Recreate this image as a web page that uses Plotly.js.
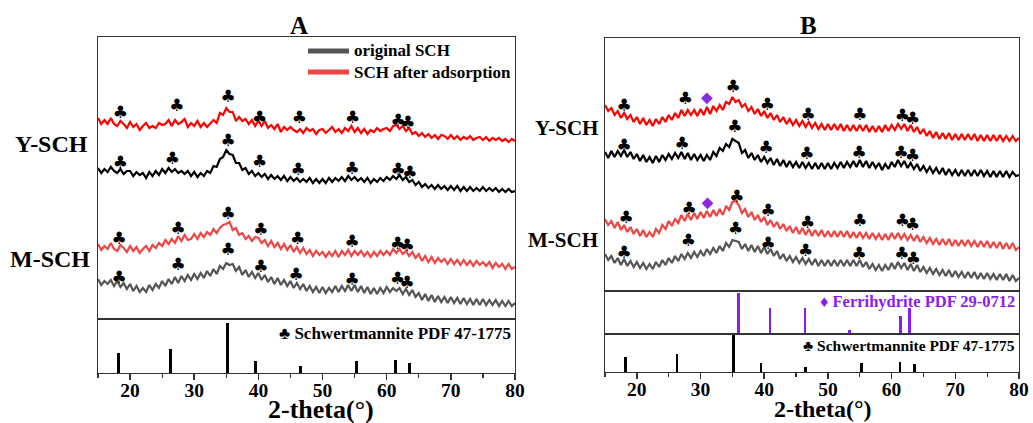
<!DOCTYPE html>
<html>
<head>
<meta charset="utf-8">
<script src="https://cdn.plot.ly/plotly-3.0.1.min.js"></script>
<style>html,body{margin:0;padding:0;background:#fff;}#chart{width:1033px;height:423px;}</style>
</head>
<body>
<div id="chart"></div>
<script>
// ---- 2-theta sampling ----
const thetaStart = 15, thetaStep = 0.5;

// ---- Panel A patterns (relative intensity, arbitrary offset units) ----
const aYafter = [201,195,199,195,201,195,193,198,195,191, 197,192,195,189,193,196,191,193,191,196,
 194,195,199,193,199,195,197,200,192,196, 193,198,192,196,192,196,199,196,206,204,
 211,207,207,198,202,198,200,195,199,193, 198,193,198,191,194,190,195,187,192,189,
 192,189,187,190,186,191,188,190,185,189, 190,186,189,192,187,190,186,191,188,193,
 187,191,186,190,185,189,187,191,188,190, 191,188,193,194,190,193,188,191,185,187,
 183,186,182,185,181,184,180,184,183,180, 184,180,183,179,182,180,183,179,181,182,
 179,182,178,181,179,181,178,180,177,180, 178];
const aYorig = [151,146,150,147,152,148,146,150,145,148, 148,143,147,144,146,141,147,143,148,144,
 150,146,151,147,150,146,148,145,148,143, 147,142,146,143,148,146,153,152,160,162,
 169,165,164,156,156,149,151,145,148,143, 146,142,145,140,144,140,143,139,143,138,
 142,138,141,137,140,137,141,136,140,136, 140,136,141,137,141,138,142,138,143,139,
 142,138,141,137,141,136,140,137,141,138, 142,139,143,140,144,139,142,137,139,134,
 137,132,135,131,134,130,134,130,133,129, 133,129,133,128,132,128,132,128,131,128,
 132,128,131,128,131,127,130,127,130,127, 128];
const aMafter = [75,69,73,70,76,70,68,74,71,67, 73,68,72,66,70,73,68,74,71,76,
 73,79,75,80,76,83,78,84,79,80, 85,80,86,82,87,84,90,86,91,94,
 95,97,89,91,84,86,80,83,78,82, 81,76,79,73,78,72,76,70,75,69,
 74,67,72,66,71,65,69,63,68,64, 67,62,67,63,68,62,68,64,69,63,
 68,64,68,63,67,62,67,63,68,64, 68,64,70,66,70,65,68,63,67,61,
 65,58,63,57,62,56,61,57,60,55, 60,55,59,54,59,54,58,53,58,54,
 57,53,57,51,56,52,55,50,55,50, 52];
const aMorig = [40,34,38,35,39,33,38,32,36,30, 35,28,33,27,31,27,34,29,35,31,
 38,33,40,35,42,36,43,38,44,39, 45,40,46,41,48,43,50,45,53,50,
 56,54,55,48,52,44,49,42,47,41, 46,39,44,37,42,35,41,34,39,33,
 38,31,36,30,35,28,33,27,32,26, 32,26,31,27,33,27,33,28,34,28,
 34,27,33,26,32,25,31,25,31,26, 32,27,31,28,31,25,30,24,29,22,
 26,19,25,18,24,17,23,17,22,16, 22,16,21,15,21,15,20,14,20,14,
 20,14,19,14,19,13,18,13,18,13, 16];

// ---- Panel B patterns ----
const bYafter = [186,180,183,176,180,173,178,172,176,169, 174,167,173,166,171,165,172,167,174,169,
 176,171,178,173,181,175,181,176,181,175, 182,176,184,177,185,180,186,181,189,187,
 194,189,191,184,187,180,184,177,182,175, 180,173,178,171,176,169,174,167,172,166,
 171,165,170,164,169,163,168,162,167,161, 167,161,167,161,167,160,166,160,166,160,
 166,160,166,159,165,159,165,159,166,160, 166,161,167,162,167,160,166,159,164,157,
 162,155,160,153,159,152,158,152,158,151, 157,151,157,151,157,151,157,150,156,150,
 156,150,156,150,156,150,155,150,155,150, 153];
const bYorig = [139,133,140,134,140,135,141,134,139,132, 137,130,136,129,134,128,135,129,136,131,
 137,132,138,133,139,132,138,131,137,131, 136,130,136,131,139,135,143,140,147,144,
 152,150,148,138,141,133,138,131,136,129, 134,128,133,126,132,125,131,124,130,124,
 129,123,129,123,128,122,128,122,128,122, 128,122,128,123,129,123,129,124,130,124,
 131,124,130,123,129,123,128,121,127,122, 129,124,131,125,130,123,128,122,127,120,
 125,119,124,118,123,117,123,116,122,116, 121,115,121,115,121,115,121,115,121,115,
 120,114,120,114,120,114,120,114,119,115, 116];
const bMafter = [72,66,70,63,69,61,66,59,64,57, 62,55,61,54,59,54,62,58,66,62,
 70,65,72,68,76,70,77,71,78,72, 79,73,80,74,81,75,82,76,85,81,
 89,90,86,78,82,74,79,71,76,69, 74,66,71,64,69,62,67,60,65,58,
 64,57,63,56,62,55,61,55,61,54, 60,54,60,54,60,54,60,53,59,53,
 59,53,58,52,58,52,57,51,57,51, 58,52,58,52,57,51,56,50,56,49,
 54,48,53,47,52,46,52,46,52,45, 51,45,51,45,51,45,50,44,50,44,
 50,43,49,43,49,42,48,42,48,41, 44];
const bMorig = [37,31,35,28,33,26,32,25,30,24, 29,23,28,22,27,22,29,24,31,26,
 33,28,35,30,37,32,38,33,39,34, 40,35,42,37,43,38,45,40,48,44,
 51,50,49,42,47,40,46,39,45,38, 44,37,42,35,40,32,37,30,35,29,
 34,28,33,27,32,26,32,25,31,25, 31,25,31,25,31,25,31,25,31,25,
 31,24,29,22,27,21,26,20,26,21, 28,22,29,23,28,21,27,20,26,19,
 24,18,23,17,22,16,21,15,21,14, 20,14,19,13,19,13,19,12,18,12,
 18,12,17,11,17,11,17,10,16,10, 13];

// ---- Reference cards ----
const schwPos = [18.2, 26.3, 35.2, 39.5, 46.5, 55.3, 61.3, 63.6];
const schwInt = [40, 48, 100, 25, 14, 24, 26, 21];
const ferriPos = [35.95, 40.9, 46.4, 53.35, 61.4, 62.8];
const ferriInt = [100, 63, 63, 10, 45, 63];

// ---- Peak markers ----
const clubsAx = [18.5,27.3,35.3,40.2,46.4,54.7,61.8,63.3, 18.5,26.6,35.3,40.2,46.2,54.6,61.8,63.6,
 18.3,27.5,35.3,40.4,46.1,54.6,61.7,63.2, 18.3,27.5,35.3,40.4,45.9,54.6,61.7,63.2];
const clubsAy = [205.7,212.3,221.3,200.7,200.7,200,197.3,195, 155.7,159,177,156.3,148.3,149.7,148.3,145.7,
 79.7,89,104,88,79,76.3,74.7,72.3, 40.7,53,68.3,51.7,43,38.3,39.7,35.7];
const clubsBx = [18.0,27.6,35.1,40.5,46.9,55.0,61.7,63.3, 18.0,27.1,35.4,40.3,46.7,54.9,61.5,63.3,
 18.3,28.2,35.7,40.6,46.8,55.0,61.7,63.3, 18.0,28.1,35.5,40.6,46.5,54.9,61.6,63.4];
const clubsBy = [184.3,191,203.7,185.3,175.3,175.3,174.3,171, 144.3,146,163.3,142.7,136,137,137,134.3,
 72.7,81.7,93.7,79.3,67.7,69.3,69.3,65, 37.7,49.3,61,46,39.3,36,36,31];
const diamondsBx = [31.0, 31.1];
const diamondsBy = [192.7, 87.7];

const tickVals = [20, 30, 40, 50, 60, 70, 80];
const tickText = ['20', '30', '40', '50', '60', '70', '80'];

// ---- build ----
const twoTheta = aYafter.map((_, i) => thetaStart + i * thetaStep);
const W = 1033, H = 423;
const px = v => v / W, py = v => 1 - v / H;
const SERIF = 'Liberation Serif, Times New Roman, serif';
const RED = '#ff0000', RED2 = '#ee4545', GRAY = '#555555';

function line(y, color, xa, ya) {
  return {type: 'scatter', mode: 'lines', x: twoTheta, y: y, xaxis: xa, yaxis: ya,
    line: {color: color, width: 2.2}, hoverinfo: 'skip'};
}
const data = [
  line(aYafter, RED, 'x', 'y'), line(aYorig, '#000000', 'x', 'y'),
  line(aMafter, RED2, 'x', 'y'), line(aMorig, GRAY, 'x', 'y'),
  {type: 'scatter', mode: 'text', x: clubsAx, y: clubsAy, text: clubsAx.map(() => '♣'),
    textfont: {family: 'DejaVu Sans', size: 17, color: '#000'}, xaxis: 'x', yaxis: 'y', hoverinfo: 'skip'},
  {type: 'bar', x: schwPos, y: schwInt, width: 0.47, marker: {color: '#000', line: {width: 0}},
    xaxis: 'x2', yaxis: 'y2', hoverinfo: 'skip'},
  line(bYafter, RED, 'x3', 'y3'), line(bYorig, '#000000', 'x3', 'y3'),
  line(bMafter, RED2, 'x3', 'y3'), line(bMorig, GRAY, 'x3', 'y3'),
  {type: 'scatter', mode: 'text', x: clubsBx, y: clubsBy, text: clubsBx.map(() => '♣'),
    textfont: {family: 'DejaVu Sans', size: 17, color: '#000'}, xaxis: 'x3', yaxis: 'y3', hoverinfo: 'skip'},
  {type: 'scatter', mode: 'markers', x: diamondsBx, y: diamondsBy,
    marker: {symbol: 'diamond', size: 9, color: '#8a2be2'}, xaxis: 'x3', yaxis: 'y3', hoverinfo: 'skip'},
  {type: 'bar', x: ferriPos, y: ferriInt, width: 0.42, marker: {color: '#8a1cf0', line: {width: 0}},
    xaxis: 'x4', yaxis: 'y4', hoverinfo: 'skip'},
  {type: 'bar', x: schwPos, y: schwInt, width: 0.42, marker: {color: '#000', line: {width: 0}},
    xaxis: 'x5', yaxis: 'y5', hoverinfo: 'skip'}
];

const frame = {showline: true, mirror: true, linecolor: '#333', linewidth: 1.3,
  showgrid: false, zeroline: false, fixedrange: true};
function xHidden(dom, anchor) {
  return Object.assign({}, frame, {domain: dom, anchor: anchor, range: [15, 80],
    showticklabels: false, ticks: ''});
}
function xTicked(dom, anchor) {
  return Object.assign({}, frame, {domain: dom, anchor: anchor, range: [15, 80],
    tickmode: 'array', tickvals: tickVals, ticktext: tickText.map(t => '<b>' + t + '</b>'),
    ticks: 'outside', ticklen: 6, tickwidth: 1.5, tickcolor: '#333', ticklabelstandoff: -7,
    minor: {ticks: 'outside', tickmode: 'linear', tick0: 15, dtick: 10, ticklen: 4, tickwidth: 1.3, tickcolor: '#333'},
    tickfont: {family: SERIF, size: 19.5, color: '#000', weight: 'bold'}});
}
function yHidden(dom, anchor, rng) {
  return Object.assign({}, frame, {domain: dom, anchor: anchor, range: rng,
    showticklabels: false, ticks: ''});
}
const xA = [px(98), px(515)], xB = [px(605), px(1019)];

function ann(text, x, y, size, opts) {
  return Object.assign({xref: 'paper', yref: 'paper', x: px(x), y: py(y), text: text, showarrow: false,
    xanchor: 'center', yanchor: 'middle',
    font: {family: SERIF, size: size, color: '#000', weight: 'bold'}}, opts || {});
}

const layout = {
  width: W, height: H, margin: {l: 0, r: 0, t: 0, b: 0},
  paper_bgcolor: '#fff', plot_bgcolor: 'rgba(0,0,0,0)', showlegend: false, bargap: 0,
  xaxis: xHidden(xA, 'y'),
  yaxis: yHidden([py(319), py(37)], 'x', [0, 282]),
  xaxis2: xTicked(xA, 'y2'),
  yaxis2: yHidden([py(373), py(319)], 'x2', [0, 108.7]),
  xaxis3: xHidden(xB, 'y3'),
  yaxis3: yHidden([py(291), py(38)], 'x3', [0, 253]),
  xaxis4: xHidden(xB, 'y4'),
  yaxis4: yHidden([py(334), py(291)], 'x4', [0, 105.6]),
  xaxis5: xTicked(xB, 'y5'),
  yaxis5: yHidden([py(372), py(334)], 'x5', [0, 102.8]),
  shapes: [
    {type: 'line', xref: 'paper', yref: 'paper', x0: px(308), x1: px(349), y0: py(51), y1: py(51),
      line: {color: GRAY, width: 5}},
    {type: 'line', xref: 'paper', yref: 'paper', x0: px(308), x1: px(349), y0: py(72), y1: py(72),
      line: {color: RED2, width: 5}}
  ],
  annotations: [
    ann('A', 299, 26, 25),
    ann('B', 808, 26, 25),
    ann('original SCH', 352, 51, 17, {xanchor: 'left'}),
    ann('SCH after adsorption', 352, 72, 17, {xanchor: 'left'}),
    ann('Y-SCH', 90, 143.5, 24, {xanchor: 'right'}),
    ann('M-SCH', 92, 258.5, 24, {xanchor: 'right'}),
    ann('Y-SCH', 600, 128, 21, {xanchor: 'right'}),
    ann('M-SCH', 600, 240, 21, {xanchor: 'right'}),
    ann('♣ Schwertmannite PDF 47-1775', 513, 333, 17, {xanchor: 'right'}),
    ann('♦ Ferrihydrite PDF 29-0712', 1017, 301, 16.5,
      {xanchor: 'right', font: {family: SERIF, size: 16.5, color: '#8a1cf0', weight: 'bold'}}),
    ann('♣ Schwertmannite PDF 47-1775', 1017, 345, 15.5, {xanchor: 'right'}),
    ann('2-theta(°)', 321, 409, 26),
    ann('2-theta(°)', 823, 409, 24)
  ]
};

Plotly.newPlot('chart', data, layout, {staticPlot: true, displayModeBar: false});
</script>
</body>
</html>
